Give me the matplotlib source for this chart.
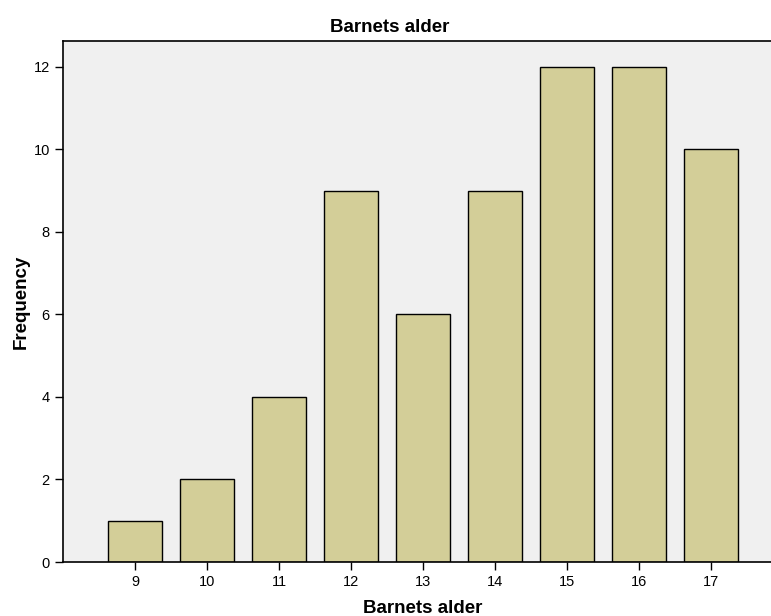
import matplotlib
matplotlib.use("Agg")
import matplotlib.pyplot as plt

# data
ages = [9, 10, 11, 12, 13, 14, 15, 16, 17]
freq = [1, 2, 4, 9, 6, 9, 12, 12, 10]
yticks = [0, 2, 4, 6, 8, 10, 12]

plt.rcParams["font.family"] = ["Liberation Sans", "DejaVu Sans"]

fig = plt.figure(figsize=(7.71, 6.16), dpi=100)
# axes runs past the right edge, as in the original
ax = fig.add_axes([63 / 771, 54 / 616, 720 / 771, 521 / 616])
ax.set_facecolor("#f0f0f0")

ax.bar(ages, freq, width=0.75, color="#d3ce98", edgecolor="black", linewidth=1.0)

ax.set_xlim(8, 18)
ax.set_ylim(0, 12.63)
ax.set_xticks(ages)
ax.set_yticks(yticks)
ax.tick_params(axis="both", direction="out", length=6, width=1, labelsize=10.5, colors="black")

for s in ax.spines.values():
    s.set_linewidth(1.2)
ax.spines["right"].set_visible(False)

ax.text(0.454, 1.01, "Barnets alder", transform=ax.transAxes, ha="center", va="bottom",
        fontsize=13.5, fontweight="bold")
ax.set_xlabel("Barnets alder", fontsize=13.5, fontweight="bold")
ax.xaxis.set_label_coords(0.5, -0.072)
ax.set_ylabel("Frequency", fontsize=13.5, fontweight="bold")
ax.yaxis.set_label_coords(-0.046, 0.5)

fig.savefig("out.png", dpi=100)
